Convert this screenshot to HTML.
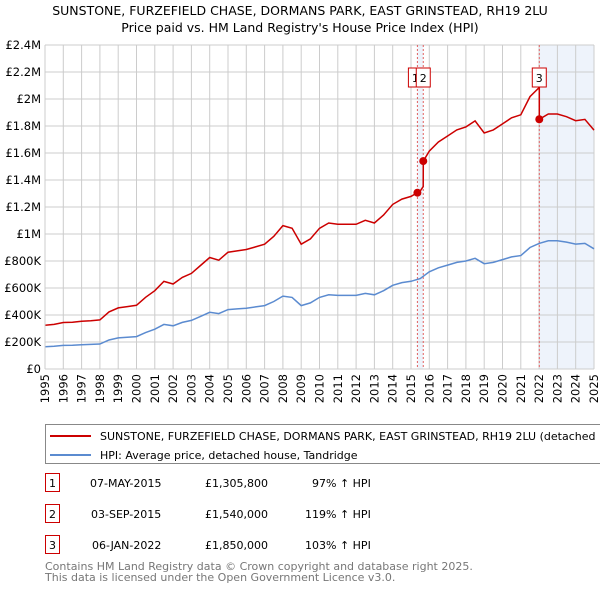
<!DOCTYPE html>
<html><head><meta charset="utf-8"><style>
body{margin:0;background:#fff;font-family:"Liberation Sans","DejaVu Sans",sans-serif;}
svg text{font-family:"DejaVu Sans","Liberation Sans",sans-serif;}
</style></head><body>
<svg id="chart" width="600" height="590" viewBox="0 0 600 590">
<text x="300" y="15" text-anchor="middle" font-size="12.5" fill="#000">SUNSTONE, FURZEFIELD CHASE, DORMANS PARK, EAST GRINSTEAD, RH19 2LU</text>
<text x="300" y="32" text-anchor="middle" font-size="12.5" fill="#000">Price paid vs. HM Land Registry's House Price Index (HPI)</text>
<g id="plot"></g>
<g>
<rect x="45.5" y="424.5" width="560" height="39" fill="#fff" stroke="#888"/>
<line x1="50" y1="436" x2="91" y2="436" stroke="#cc0000" stroke-width="2"/>
<text x="100" y="440" font-size="11">SUNSTONE, FURZEFIELD CHASE, DORMANS PARK, EAST GRINSTEAD, RH19 2LU (detached house)</text>
<line x1="50" y1="455" x2="91" y2="455" stroke="#5b8bd0" stroke-width="2"/>
<text x="100" y="459" font-size="11">HPI: Average price, detached house, Tandridge</text>
</g>
<g font-size="11">
<rect x="45.5" y="473.5" width="14" height="18" fill="#fff" stroke="#cc0000"/><text x="52.5" y="487" text-anchor="middle">1</text>
<text x="90" y="487">07-MAY-2015</text><text x="205" y="487">£1,305,800</text><text x="312" y="487">97% ↑ HPI</text>
<rect x="45.5" y="504.5" width="14" height="18" fill="#fff" stroke="#cc0000"/><text x="52.5" y="518" text-anchor="middle">2</text>
<text x="91" y="518">03-SEP-2015</text><text x="205" y="518">£1,540,000</text><text x="305" y="518">119% ↑ HPI</text>
<rect x="45.5" y="535.5" width="14" height="18" fill="#fff" stroke="#cc0000"/><text x="52.5" y="549" text-anchor="middle">3</text>
<text x="92" y="549">06-JAN-2022</text><text x="205" y="549">£1,850,000</text><text x="305" y="549">103% ↑ HPI</text>
</g>
<text x="45" y="570" font-size="11" fill="#777">Contains HM Land Registry data © Crown copyright and database right 2025.</text>
<text x="45" y="581" font-size="11" fill="#777">This data is licensed under the Open Government Licence v3.0.</text>
</svg>
<script>
const years=[1995,1995.5,1996,1996.5,1997,1997.5,1998,1998.5,1999,1999.5,2000,2000.5,2001,2001.5,2002,2002.5,2003,2003.5,2004,2004.5,2005,2005.5,2006,2006.5,2007,2007.5,2008,2008.5,2009,2009.5,2010,2010.5,2011,2011.5,2012,2012.5,2013,2013.5,2014,2014.5,2015,2015.5,2016,2016.5,2017,2017.5,2018,2018.5,2019,2019.5,2020,2020.5,2021,2021.5,2022,2022.5,2023,2023.5,2024,2024.5,2025];
const hpi=[165,168,175,176,180,182,185,215,230,235,240,270,295,330,320,345,360,390,420,410,440,445,450,460,470,500,540,530,470,490,530,550,545,545,545,560,550,580,620,640,650,670,720,750,770,790,800,820,780,790,810,830,840,900,930,950,950,940,925,930,890];
const saleDates=[2015.35,2015.67,2022.01];
const salePrices=[1305800,1540000,1850000];
const yTicks=[0,200000,400000,600000,800000,1000000,1200000,1400000,1600000,1800000,2000000,2200000,2400000];
const yLabels=["£0","£200K","£400K","£600K","£800K","£1M","£1.2M","£1.4M","£1.6M","£1.8M","£2M","£2.2M","£2.4M"];
const xTicks=[1995,1996,1997,1998,1999,2000,2001,2002,2003,2004,2005,2006,2007,2008,2009,2010,2011,2012,2013,2014,2015,2016,2017,2018,2019,2020,2021,2022,2023,2024,2025];

const X0=45,X1=594,Y0=369,Y1=45;
const sx=t=>X0+(t-1995)/30*(X1-X0);
const sy=v=>Y0-v/2400000*(Y0-Y1);
const NS="http://www.w3.org/2000/svg";
const g=document.getElementById('plot');
function mk(tag,attrs){const e=document.createElementNS(NS,tag);for(const k in attrs)e.setAttribute(k,attrs[k]);g.appendChild(e);return e;}
function hpiAt(t){for(let i=0;i<years.length-1;i++){if(t<=years[i+1]){const f=(t-years[i])/(years[i+1]-years[i]);return hpi[i]+f*(hpi[i+1]-hpi[i]);}}return hpi[hpi.length-1];}

let r=mk('rect',{x:sx(saleDates[0]),y:Y1,width:sx(saleDates[1])-sx(saleDates[0]),height:Y0-Y1,fill:'#eef3fb'});


r=mk('rect',{x:sx(saleDates[2]),y:Y1,width:X1-sx(saleDates[2]),height:Y0-Y1,fill:'#eef3fb'});


xTicks.forEach(t=>{const l=mk('line',{x1:sx(t),x2:sx(t),y1:Y1,y2:Y0,stroke:'#cccccc'});


const x=sx(t)+4,y=Y0+5;
const tx=mk('text',{x:x,y:y,'text-anchor':'end','font-size':'11.5',transform:'rotate(-90 '+x+' '+y+')'});tx.textContent=t;

});
yTicks.forEach((v,i)=>{const l=mk('line',{x1:X0,x2:X1,y1:sy(v),y2:sy(v),stroke:'#cccccc'});


const tx=mk('text',{x:X0-4,y:sy(v)+4,'text-anchor':'end','font-size':'11.5'});tx.textContent=yLabels[i];

});
saleDates.forEach(d=>{const l=mk('line',{x1:sx(d),x2:sx(d),y1:Y1,y2:Y0,stroke:'#e06060','stroke-dasharray':'2,2','stroke-width':'1'});

});
let p='';years.forEach((t,i)=>{p+=(i?'L':'M')+sx(t).toFixed(1)+','+sy(hpi[i]*1000).toFixed(1);});
let hl=mk('path',{d:p,fill:'none',stroke:'#5b8bd0','stroke-width':'1.5'});


function redAt(t){let k=0;for(let i=0;i<saleDates.length;i++){if(t>=saleDates[i])k=i;}return salePrices[k]*hpiAt(t)/hpiAt(saleDates[k]);}
const pts=[];years.forEach(t=>pts.push(t));saleDates.forEach(d=>{pts.push(d-0.001);pts.push(d);});pts.sort((a,b)=>a-b);
p='';pts.forEach((t,i)=>{p+=(i?'L':'M')+sx(t).toFixed(1)+','+sy(redAt(t)).toFixed(1);});
let rl=mk('path',{d:p,fill:'none',stroke:'#cc0000','stroke-width':'1.5'});


saleDates.forEach((d,i)=>{const c=mk('circle',{cx:sx(d),cy:sy(salePrices[i]),r:4,fill:'#cc0000'});


const bx=i===0?sx(d)-9:sx(d)-7;
const b=mk('rect',{x:bx,y:68,width:14,height:19,fill:'#fff',stroke:'#cc0000'});


const tx=mk('text',{x:bx+7,y:82,'text-anchor':'middle','font-size':'11'});tx.textContent=i+1;

});
let ax=mk('line',{x1:X0,x2:X0,y1:Y1,y2:Y0,stroke:'#cccccc'});


</script>
</body></html>
